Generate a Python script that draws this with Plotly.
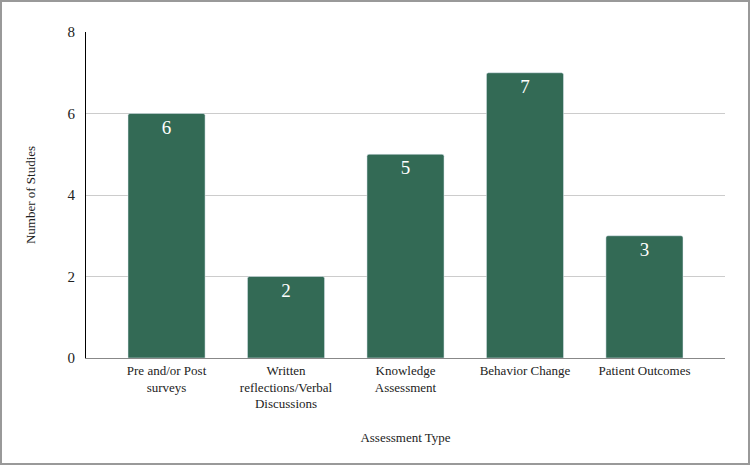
import plotly.graph_objects as go

categories = ["Pre and/or Post<br>surveys", "Written<br>reflections/Verbal<br>Discussions",
              "Knowledge<br>Assessment", "Behavior Change", "Patient Outcomes"]
values = [6, 2, 5, 7, 3]
y_ticks = [0, 2, 4, 6, 8]

W, H = 750, 465
L, R, T, B = 86, 25, 32, 107
pw, ph = W - L - R, H - T - B
SERIF = "Times New Roman, Liberation Serif, Tinos, serif"

fig = go.Figure(go.Bar(
    x=list(range(len(values))), y=values, marker=dict(color="#336a55", cornerradius=2),
    width=0.645, text=[str(v) for v in values], textposition="inside",
    insidetextanchor="end",
    textfont=dict(family=SERIF, size=19, color="white"),
    cliponaxis=False,
))

fig.update_layout(
    width=W, height=H, margin=dict(l=L, r=R, t=T, b=B),
    paper_bgcolor="white", plot_bgcolor="white",
    font=dict(family=SERIF, size=13, color="#222"),
    showlegend=False,
    xaxis=dict(showline=True, linecolor="#888", linewidth=1, ticks="",
               range=[-0.674, 4.674], tickvals=list(range(len(values))),
               ticktext=categories,
               title=dict(text="Assessment Type", standoff=22, font=dict(size=13)),
               tickfont=dict(size=13)),
    yaxis=dict(range=[0, 8], tickvals=y_ticks, showgrid=True, gridcolor="#cccccc",
               showline=True, linecolor="black", linewidth=1, zeroline=False,
               ticks="", ticklabelstandoff=7,
               title=dict(text="Number of Studies", standoff=28, font=dict(size=13)),
               tickfont=dict(size=15)),
    shapes=[dict(type="rect", xref="paper", yref="paper",
                 x0=(1 - L) / pw, x1=(W - 1 - L) / pw,
                 y0=(T + ph - (H - 1)) / ph, y1=(T + ph - 1) / ph,
                 line=dict(color="#999", width=2), layer="below")],
)

fig.write_html("out.html")
